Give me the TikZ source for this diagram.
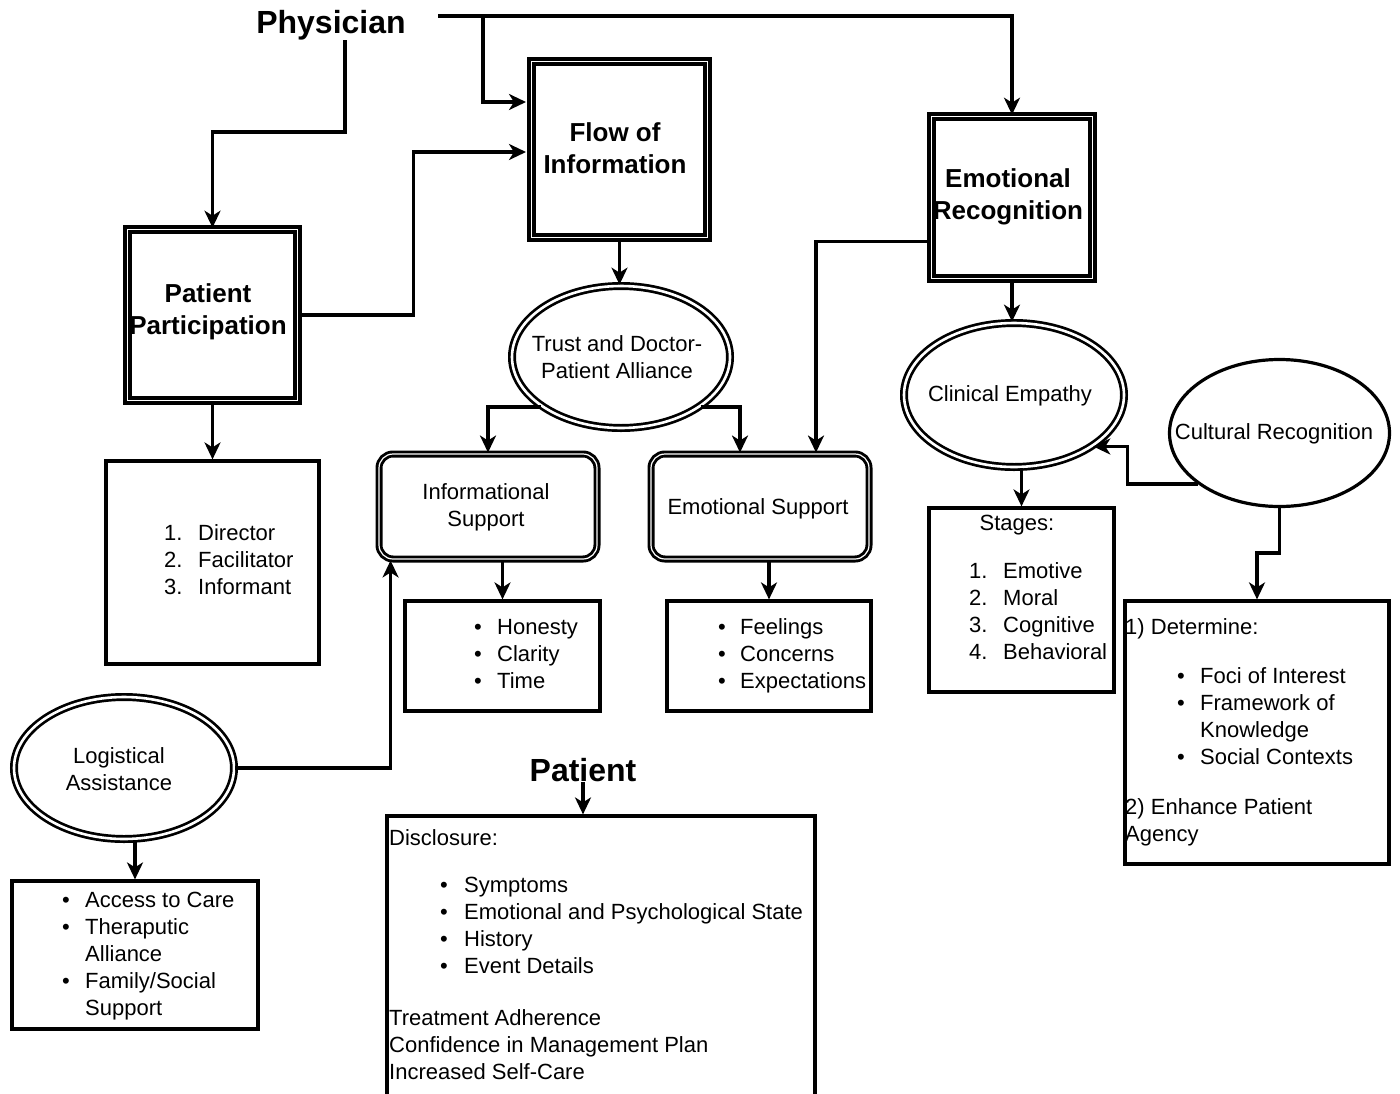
\documentclass[tikz,border=0pt]{standalone}
\usepackage{fontspec}
\setmainfont{Liberation Sans}
\usetikzlibrary{arrows.meta,shapes.geometric,calc}
\begin{document}
\begin{tikzpicture}[x=1pt,y=-1pt,
  conn/.style={line width=3.3pt,-{Stealth[length=17pt,width=16pt,inset=5pt]}},
  heavybox/.style={draw,line width=3.6pt,double,double distance=0.9pt,rectangle,inner sep=0pt},
  roundbox/.style={draw,line width=2.9pt,double,double distance=1.2pt,rectangle,rounded corners=14pt,inner sep=0pt},
  plainbox/.style={draw,line width=3.2pt,rectangle,inner sep=0pt},
  dblell/.style={draw,line width=2.7pt,double,double distance=2.6pt,ellipse,inner sep=0pt},
  sglell/.style={draw,line width=3.2pt,ellipse,inner sep=0pt},
  txt/.style={font=\fontsize{22}{27}\selectfont,inner sep=0pt,align=left},
  ctxt/.style={font=\fontsize{22}{27}\selectfont,inner sep=0pt,align=center},
  ttl/.style={font=\bfseries\fontsize{26}{32}\selectfont,inner sep=0pt,align=center},
  big/.style={font=\bfseries\fontsize{32}{38}\selectfont,inner sep=0pt}]
\useasboundingbox[fill=white] (0,0) rectangle (1400,1093);

% heavy boxes
\node[heavybox,minimum width=176,minimum height=176] (flow) at (619.5,149.5) {};
\node[heavybox,minimum width=170,minimum height=171] (pp) at (212.5,315) {};
\node[heavybox,minimum width=161,minimum height=162] (er) at (1012,197.5) {};
\node[ttl] (flowt) at (615,148) {Flow of\\Information};
\node[ttl] (ppt) at (208,312) {Patient\\Participation};
\node[ttl] (ert) at (1008,197) {Emotional\\Recognition};

% titles
\node[big] (phys) at (331,25) {Physician};
\node[big] (pat) at (583,770) {Patient};

% ellipses
\node[dblell,minimum width=218,minimum height=142] (trust) at (621,357) {};
\node[dblell,minimum width=220,minimum height=144] (ce) at (1014,395) {};
\node[sglell,minimum width=220,minimum height=147] (cr) at (1279.5,433) {};
\node[dblell,minimum width=220,minimum height=142] (la) at (124,768) {};
\node[ctxt] (trustt) at (617,357) {Trust and Doctor-\\Patient Alliance};
\node[ctxt] (cet) at (1010,396) {Clinical Empathy};
\node[ctxt] (crt) at (1274,434) {Cultural Recognition};
\node[ctxt] (lat) at (119,769) {Logistical\\Assistance};

% rounded boxes
\node[roundbox,minimum width=218,minimum height=105] (info) at (488,506.5) {};
\node[roundbox,minimum width=218,minimum height=105] (es) at (760,506.5) {};
\node[ctxt] (infot) at (486,507) {Informational\\Support};
\node[ctxt] (est) at (758,509) {Emotional Support};

% plain boxes
\node[plainbox,minimum width=195,minimum height=110] (hon) at (502.5,656) {};
\node[plainbox,minimum width=204,minimum height=110] (feel) at (769,656) {};
\node[plainbox,minimum width=213,minimum height=203] (dir) at (212.5,562.5) {};
\node[plainbox,minimum width=185,minimum height=184] (st) at (1021.5,600) {};
\node[plainbox,minimum width=264,minimum height=263] (det) at (1257,732.5) {};
\node[plainbox,minimum width=246,minimum height=148] (acc) at (135,955) {};
\node[plainbox,minimum width=428,minimum height=300] (dis) at (601,966) {};

% list texts
\node[txt,anchor=west] (dirl) at (164,562) {\begin{tabular}{@{}p{34pt}@{}l@{}}1.&Director\\2.&Facilitator\\3.&Informant\end{tabular}};
\node[txt,anchor=west] (honl) at (474,656) {\begin{tabular}{@{}p{23pt}@{}l@{}}\textbullet&Honesty\\\textbullet&Clarity\\\textbullet&Time\end{tabular}};
\node[txt,anchor=west] (feell) at (718,656) {\begin{tabular}{@{}p{22pt}@{}l@{}}\textbullet&Feelings\\\textbullet&Concerns\\\textbullet&Expectations\end{tabular}};
\node[ctxt] (stt) at (1017,525) {Stages:};
\node[txt,anchor=west] (stl) at (969,614) {\begin{tabular}{@{}p{34pt}@{}l@{}}1.&Emotive\\2.&Moral\\3.&Cognitive\\4.&Behavioral\end{tabular}};
\node[txt,anchor=west] (dett) at (1125,629) {1) Determine:};
\node[txt,anchor=west] (detl) at (1177,718.5) {\begin{tabular}{@{}p{23pt}@{}l@{}}\textbullet&Foci of Interest\\\textbullet&Framework of\\&Knowledge\\\textbullet&Social Contexts\end{tabular}};
\node[txt,anchor=west] (det2) at (1125,822) {2) Enhance Patient\\Agency};
\node[txt,anchor=west] (accl) at (62,956) {\begin{tabular}{@{}p{23pt}@{}l@{}}\textbullet&Access to Care\\\textbullet&Theraputic\\&Alliance\\\textbullet&Family/Social\\&Support\end{tabular}};
\node[txt,anchor=west] (dist) at (389,838) {Disclosure:};
\node[txt,anchor=west] (disl) at (440,928) {\begin{tabular}{@{}p{24pt}@{}l@{}}\textbullet&Symptoms\\\textbullet&Emotional and Psychological State\\\textbullet&History\\\textbullet&Event Details\end{tabular}};
\node[txt,anchor=west] (dis2) at (389,1045) {Treatment Adherence\\Confidence in Management Plan\\Increased Self-Care};

% connectors
\coordinate (ps) at (438,16);
\coordinate (j1) at (483,16);
\coordinate (p1) at (345,40);
\coordinate (f1) at (526,102);
\coordinate (f2) at (526,152);
\draw[conn] (ps) -| (er.north);
\draw[conn] (j1) |- (f1);
\draw[conn] (p1) -- ++(0,92) -| (pp.north);
\draw[conn] (pp.east) -- ++(114,0) |- (f2);
\draw[conn] (flow.south) -- (flow.south |- trust.north);
\draw[conn] (trust.212) -| (info.north);
\draw[conn] (trust.328) -| ($(es.north)+(-20,0)$);
\draw[conn] ($(er.west)+(0,44)$) -| ($(es.north)+(56,0)$);
\draw[conn] (er.south) -- (er.south |- ce.north);
\draw[conn] (cr.212) -| ($(ce.327)+(34,0)$) -- (ce.327);
\draw[conn] (cr.south) -- ++(0,45) -| (det.north);
\draw[conn] (st.north |- ce.south) -- (st.north);
\draw[conn] (hon.north |- info.south) -- (hon.north);
\draw[conn] (feel.north |- es.south) -- (feel.north);
\draw[conn] (pp.south) -- (dir.north);
\draw[conn] (la.east) -| ($(info.south west)+(13,0)$);
\draw[conn] (acc.north |- la.south) -- (acc.north);
\draw[conn] (pat.south) -- (pat.south |- dis.north);
\end{tikzpicture}
\end{document}
